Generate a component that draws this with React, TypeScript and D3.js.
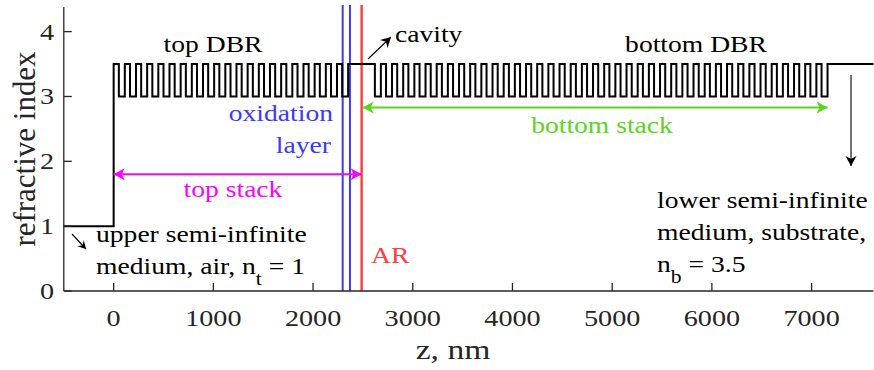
import React from "react";
import * as d3 from "d3";

// refractive index profile of the VCSEL structure
const zLimits = [-500, 7620];
const nLimits = [0, 4.38];
const xTicks = [0, 1000, 2000, 3000, 4000, 5000, 6000, 7000];
const yTicks = [0, 1, 2, 3, 4];

const indexAir = 1;
const indexHigh = 3.5;
const indexLow = 3.0;
const indexSubstrate = 3.5;
const thicknessHigh = 52;
const thicknessLow = 60;
const topPairs = 21;
const cavityThickness = 268;
const bottomPairs = 40;

const oxidationZ = [2297, 2370];
const arZ = 2487;

const W = 874, H = 370;
const margin = { top: 7, right: 0, bottom: 79, left: 64 };
const SX = 1.2; // the original picture is stretched horizontally

// build the layer list
type Layer = { n: number; d: number };
const layers: Layer[] = [{ n: indexAir, d: -zLimits[0] }];
for (let i = 0; i < topPairs; i++) {
    layers.push({ n: indexHigh, d: thicknessHigh });
    layers.push({ n: indexLow, d: thicknessLow });
}
layers.push({ n: indexHigh, d: cavityThickness });
for (let i = 0; i < bottomPairs; i++) {
    layers.push({ n: indexLow, d: thicknessLow });
    layers.push({ n: indexHigh, d: thicknessHigh });
}
layers.push({ n: indexLow, d: thicknessLow });

const profile: [number, number][] = [];
let zc = zLimits[0];
layers.forEach((l) => {
    profile.push([zc, l.n]);
    zc += l.d;
});
const bottomEnd = zc;
profile.push([zc, indexSubstrate]);
profile.push([zLimits[1], indexSubstrate]);

const x = d3.scaleLinear().domain(zLimits).range([margin.left - 0.2, W - margin.right - 0.6]);
const y = d3.scaleLinear().domain(nLimits).range([H - margin.bottom, margin.top]);

const line = d3.line<[number, number]>()
    .x((d) => x(d[0]))
    .y((d) => y(d[1]))
    .curve(d3.curveStepAfter);

const FONT = "'Liberation Serif', 'Times New Roman', serif";

function T(props: { x: number; y: number; size: number; fill?: string; anchor?: string; children: React.ReactNode }) {
    return (
        <text
            transform={`translate(${props.x},${props.y}) scale(${SX},1)`}
            fontSize={props.size}
            fontFamily={FONT}
            fill={props.fill || "#000"}
            textAnchor={props.anchor || "start"}
        >
            {props.children}
        </text>
    );
}

function Arrow(props: { x1: number; y1: number; x2: number; y2: number; color: string; both?: boolean; head?: number; width?: number }) {
    const { x1, y1, x2, y2, color } = props;
    const hl = props.head || 10, hw = (props.head || 10) * 0.55;
    const head = (ax: number, ay: number, bx: number, by: number) => {
        // tip at (bx,by), coming from (ax,ay)
        const a = Math.atan2(by - ay, bx - ax);
        const ux = Math.cos(a), uy = Math.sin(a);
        const px = -uy, py = ux;
        const bx0 = bx - ux * hl, by0 = by - uy * hl;
        return `M${bx},${by}L${bx0 + px * hw},${by0 + py * hw}L${bx0 + ux * 3},${by0 + uy * 3}L${bx0 - px * hw},${by0 - py * hw}Z`;
    };
    return (
        <g>
            <line x1={x1} y1={y1} x2={x2} y2={y2} stroke={color} strokeWidth={props.width || 1.3} />
            <path d={head(x1, y1, x2, y2)} fill={color} />
            {props.both && <path d={head(x2, y2, x1, y1)} fill={color} />}
        </g>
    );
}

export default function App() {
    const y0 = y(0), yTop = y(nLimits[1]);
    const axisColor = "#262626";
    const tickSize = 23.5;
    const annSize = 23;
    const blue = "#3a3aff", red = "#ff3c3c", magenta = "#ff00ff", green = "#5bd41c";
    const stackY = y(1.8), bottomStackY = y(2.83);

    return (
        <svg width={W} height={H} style={{ position: "absolute", left: 0, top: 0, background: "#fff" }}>
            {/* oxidation layer and AR lines */}
            {oxidationZ.map((z) => (
                <line key={z} x1={x(z)} x2={x(z)} y1={yTop - 2} y2={y0} stroke={blue} strokeWidth={2} />
            ))}
            <line x1={x(arZ)} x2={x(arZ)} y1={yTop - 2} y2={y0} stroke={red} strokeWidth={2.4} />

            {/* profile */}
            <path d={line(profile) || ""} fill="none" stroke="#000" strokeWidth={2} />

            {/* axes */}
            <g stroke={axisColor} strokeWidth={1.3}>
                <line x1={x(zLimits[0])} x2={x(zLimits[1])} y1={y0} y2={y0} />
                <line x1={x(zLimits[0])} x2={x(zLimits[0])} y1={y0} y2={yTop} />
                {xTicks.map((t) => (
                    <line key={t} x1={x(t)} x2={x(t)} y1={y0} y2={y0 - 8} />
                ))}
                {yTicks.map((t) => (
                    <line key={t} x1={x(zLimits[0])} x2={x(zLimits[0]) + 8} y1={y(t)} y2={y(t)} />
                ))}
            </g>
            {xTicks.map((t) => (
                <T key={t} x={x(t)} y={y0 + 35} size={tickSize} fill={axisColor} anchor="middle">
                    {d3.format("d")(t)}
                </T>
            ))}
            {yTicks.map((t) => (
                <T key={t} x={54} y={y(t) + 8} size={tickSize} fill={axisColor} anchor="end">
                    {t}
                </T>
            ))}
            <T x={453} y={359} size={28} fill={axisColor} anchor="middle">z, nm</T>
            <text
                transform={`translate(35,149) scale(1.05,1) rotate(-90)`}
                fontSize={31}
                fontFamily={FONT}
                fill={axisColor}
                textAnchor="middle"
            >
                refractive index
            </text>

            {/* annotations */}
            <T x={213} y={52} size={annSize} anchor="middle">top DBR</T>
            <T x={696} y={52} size={annSize} anchor="middle">bottom DBR</T>
            <T x={395} y={42} size={annSize}>cavity</T>
            <Arrow x1={368} y1={59} x2={391} y2={37} color="#000" head={10} width={1.1} />

            <T x={333} y={121} size={annSize} fill={blue} anchor="end">oxidation</T>
            <T x={331} y={153} size={annSize} fill={blue} anchor="end">layer</T>
            <T x={371} y={263} size={annSize} fill={red}>AR</T>

            <Arrow x1={x(0)} y1={stackY} x2={x(arZ)} y2={stackY} color={magenta} both head={11} width={2} />
            <T x={233} y={197} size={annSize} fill={magenta} anchor="middle">top stack</T>
            <Arrow x1={x(arZ) + 1} y1={bottomStackY} x2={x(bottomEnd)} y2={bottomStackY} color={green} both head={11} width={2} />
            <T x={602} y={133} size={annSize} fill={green} anchor="middle">bottom stack</T>

            <Arrow x1={72} y1={234} x2={86} y2={249} color="#000" head={8} width={1.1} />
            <T x={96} y={242} size={annSize}>upper semi-infinite</T>
            <T x={96} y={274} size={annSize}>
                medium, air, n<tspan dy={11} fontSize={18}>t</tspan><tspan dy={-11}> = 1</tspan>
            </T>

            <Arrow x1={851} y1={75} x2={851} y2={166} color="#000" head={10} width={1.1} />
            <T x={657} y={208} size={annSize}>lower semi-infinite</T>
            <T x={657} y={240} size={annSize}>medium, substrate,</T>
            <T x={657} y={272} size={annSize}>
                n<tspan dy={11} fontSize={18}>b</tspan><tspan dy={-11}> = 3.5</tspan>
            </T>
        </svg>
    );
}
